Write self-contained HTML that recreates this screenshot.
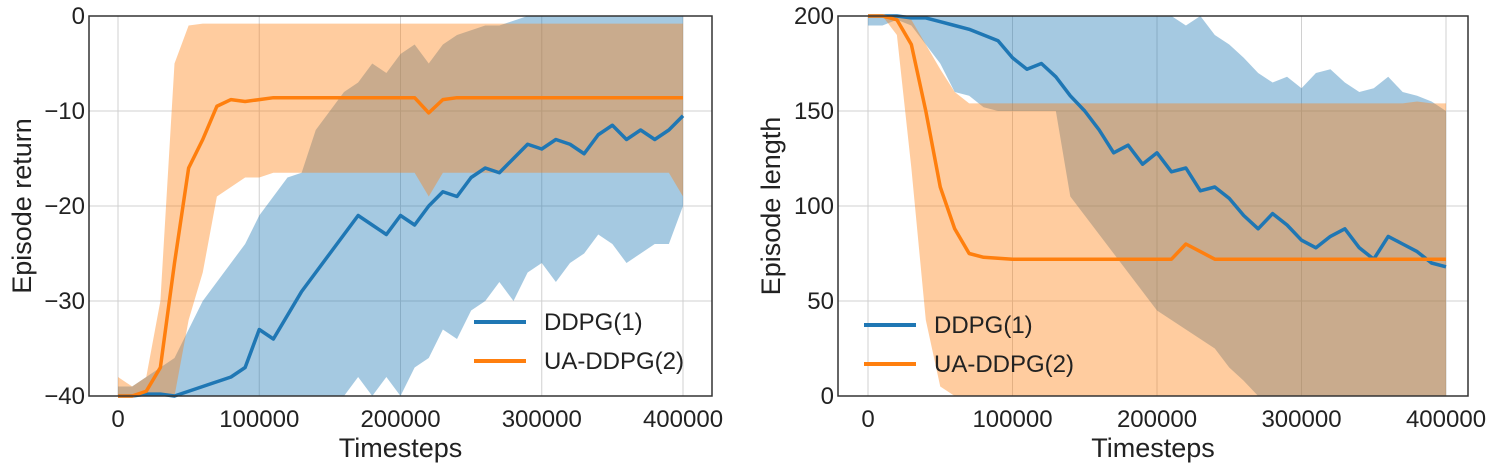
<!DOCTYPE html>
<html><head><meta charset="utf-8"><style>
body{margin:0;background:#fff;}
svg text{font-family:"Liberation Sans",sans-serif;fill:#222;}
</style></head><body>
<svg id="c" width="1497" height="469" xmlns="http://www.w3.org/2000/svg"></svg>
<script>
const steps = [0,10000,20000,30000,40000,50000,60000,70000,80000,90000,100000,110000,120000,130000,140000,150000,160000,170000,180000,190000,200000,210000,220000,230000,240000,250000,260000,270000,280000,290000,300000,310000,320000,330000,340000,350000,360000,370000,380000,390000,400000];
const xTicks = [0,100000,200000,300000,400000];
const retTicks = [-40,-30,-20,-10,0];
const lenTicks = [0,50,100,150,200];
// Episode return
const retDdpgMean = [-40,-40,-39.8,-39.8,-40,-39.5,-39,-38.5,-38,-37,-33,-34,-31.5,-29,-27,-25,-23,-21,-22,-23,-21,-22,-20,-18.5,-19,-17,-16,-16.5,-15,-13.5,-14,-13,-13.5,-14.5,-12.5,-11.5,-13,-12,-13,-12,-10.5];
const retDdpgUp = [-39,-39,-38,-37,-36,-33,-30,-28,-26,-24,-21,-19,-17,-16.5,-12,-10,-8,-7,-5,-6,-4,-3,-5,-3,-2,-1.5,-1,-1,-0.5,0,0,0,0,0,0,0,0,0,0,0,0];
const retDdpgLo = [-40,-40,-40,-40,-40,-40,-40,-40,-40,-40,-40,-40,-40,-40,-40,-40,-40,-38,-40,-38,-40,-37,-36,-33,-34,-31,-30,-28,-30,-27,-26,-28,-26,-25,-23,-24,-26,-25,-24,-24,-20];
const retUaMean = [-40,-40,-39.5,-37,-26,-16,-13,-9.5,-8.8,-9,-8.8,-8.6,-8.6,-8.6,-8.6,-8.6,-8.6,-8.6,-8.6,-8.6,-8.6,-8.6,-10.2,-8.8,-8.6,-8.6,-8.6,-8.6,-8.6,-8.6,-8.6,-8.6,-8.6,-8.6,-8.6,-8.6,-8.6,-8.6,-8.6,-8.6,-8.6];
const retUaUp = [-38,-39,-38,-30,-5,-1,-0.8,-0.8,-0.8,-0.8,-0.8,-0.8,-0.8,-0.8,-0.8,-0.8,-0.8,-0.8,-0.8,-0.8,-0.8,-0.8,-0.8,-0.8,-0.8,-0.8,-0.8,-0.8,-0.8,-0.8,-0.8,-0.8,-0.8,-0.8,-0.8,-0.8,-0.8,-0.8,-0.8,-0.8,-0.8];
const retUaLo = [-40,-40,-40,-40,-40,-32,-27,-19,-18,-17,-17,-16.5,-16.5,-16.5,-16.5,-16.5,-16.5,-16.5,-16.5,-16.5,-16.5,-16.5,-19,-16.5,-16.5,-16.5,-16.5,-16.5,-16.5,-16.5,-16.5,-16.5,-16.5,-16.5,-16.5,-16.5,-16.5,-16.5,-16.5,-16.5,-19];
// Episode length
const lenDdpgMean = [200,200,200,199,199,197,195,193,190,187,178,172,175,168,158,150,140,128,132,122,128,118,120,108,110,104,95,88,96,90,82,78,84,88,78,72,84,80,76,70,68];
const lenDdpgUp = [200,200,200,200,200,200,200,200,200,200,200,200,200,200,200,200,200,200,200,200,200,200,195,200,190,185,178,170,165,168,162,170,172,165,160,162,168,160,158,155,150];
const lenDdpgLo = [195,195,198,195,185,175,160,158,152,150,150,150,150,150,105,95,85,75,65,55,45,40,35,30,25,15,8,0,0,0,0,0,0,0,0,0,0,0,0,0,0];
const lenUaMean = [200,200,198,185,150,110,88,75,73,72.5,72,72,72,72,72,72,72,72,72,72,72,72,80,76,72,72,72,72,72,72,72,72,72,72,72,72,72,72,72,72,72];
const lenUaUp = [200,200,200,198,185,172,160,154,154,154,154,154,154,154,154,154,154,154,154,154,154,154,154,154,154,154,154,154,154,154,154,154,154,154,154,154,154,154,155,154,154];
const lenUaLo = [200,200,190,120,40,5,0,0,0,0,0,0,0,0,0,0,0,0,0,0,0,0,0,0,0,0,0,0,0,0,0,0,0,0,0,0,0,0,0,0,0];

const NS="http://www.w3.org/2000/svg";
const svg=document.getElementById('c');
function mk(tag,attrs,parent){const e=document.createElementNS(NS,tag);for(const k in attrs)e.setAttribute(k,attrs[k]);(parent||svg).appendChild(e);return e;}

function panel(cfg){
  const g=mk('g',{});
  
  
  const sx=v=>cfg.x0+(v-0)/400000*(cfg.x1-cfg.x0);
  const sy=v=>cfg.yb+(v-cfg.ymin)/(cfg.ymax-cfg.ymin)*(cfg.yt-cfg.yb);
  xTicks.forEach(t=>{const l=mk('line',{x1:sx(t),x2:sx(t),y1:cfg.T,y2:cfg.B,stroke:'#d0d0d0','stroke-width':1},g);
    
    });
  cfg.yTicks.forEach(t=>{const l=mk('line',{x1:cfg.L,x2:cfg.R,y1:sy(t),y2:sy(t),stroke:'#d0d0d0','stroke-width':1},g);
    
    });
  function band(up,lo,color,name){
    let d='M'+steps.map((s,i)=>sx(s)+','+sy(up[i])).join('L');
    d+='L'+steps.map((s,i)=>[sx(s),sy(lo[i])]).reverse().map(p=>p.join(',')).join('L')+'Z';
    const p=mk('path',{d:d,fill:color,'fill-opacity':0.4,stroke:'none'},g);
    
    
  }
  function line(m,color,name){
    const p=mk('path',{d:'M'+steps.map((s,i)=>sx(s)+','+sy(m[i])).join('L'),fill:'none',stroke:color,'stroke-width':3.5,'stroke-linejoin':'round'},g);
    
    
  }
  band(cfg.dU,cfg.dL,'#1f77b4','ddpg-band');
  band(cfg.uU,cfg.uL,'#ff7f0e','ua-ddpg-band');
  line(cfg.dM,'#1f77b4','ddpg-line');
  line(cfg.uM,'#ff7f0e','ua-ddpg-line');
  const fr=mk('rect',{x:cfg.L,y:cfg.T,width:cfg.R-cfg.L,height:cfg.B-cfg.T,fill:'none',stroke:'#333','stroke-width':1.5},g);
  
  
  xTicks.forEach(t=>{const tx=mk('text',{x:sx(t),y:cfg.B+31,'font-size':24,'text-anchor':'middle'},g);tx.textContent=t;
    
    });
  cfg.yTicks.forEach(t=>{const tx=mk('text',{x:cfg.L-4,y:sy(t)+8,'font-size':24,'text-anchor':'end'},g);tx.textContent=String(t).replace('-','\u2212');
    
    });
  const xt=mk('text',{x:(cfg.L+cfg.R)/2,y:cfg.B+61,'font-size':27,'text-anchor':'middle'},g);xt.textContent='Timesteps';
  
  
  const yt=mk('text',{x:0,y:0,'font-size':27,'text-anchor':'middle',transform:`translate(${cfg.ytx},${(cfg.T+cfg.B)/2}) rotate(-90)`},g);yt.textContent=cfg.ytitle;
  
  
  [['DDPG(1)','#1f77b4',cfg.lgy],['UA-DDPG(2)','#ff7f0e',cfg.lgy+39]].forEach(([lab,col,y])=>{
    const ln=mk('line',{x1:cfg.lgx,x2:cfg.lgx+52,y1:y,y2:y,stroke:col,'stroke-width':4},g);
    
    
    const tx=mk('text',{x:cfg.lgx+70,y:y+8,'font-size':24},g);tx.textContent=lab;
    
    
  });
}
panel({name:'return-panel',L:89,R:712,T:16,B:396,x0:118,x1:683,yb:396,yt:16,ymin:-40,ymax:0,yTicks:retTicks,ytitle:'Episode return',ytx:31,
  dM:retDdpgMean,dU:retDdpgUp,dL:retDdpgLo,uM:retUaMean,uU:retUaUp,uL:retUaLo,lgx:474,lgy:322});
panel({name:'length-panel',L:838,R:1468,T:16,B:396,x0:868,x1:1446,yb:396,yt:16,ymin:0,ymax:200,yTicks:lenTicks,ytitle:'Episode length',ytx:780,
  dM:lenDdpgMean,dU:lenDdpgUp,dL:lenDdpgLo,uM:lenUaMean,uU:lenUaUp,uL:lenUaLo,lgx:864,lgy:325});
</script>
</body></html>
